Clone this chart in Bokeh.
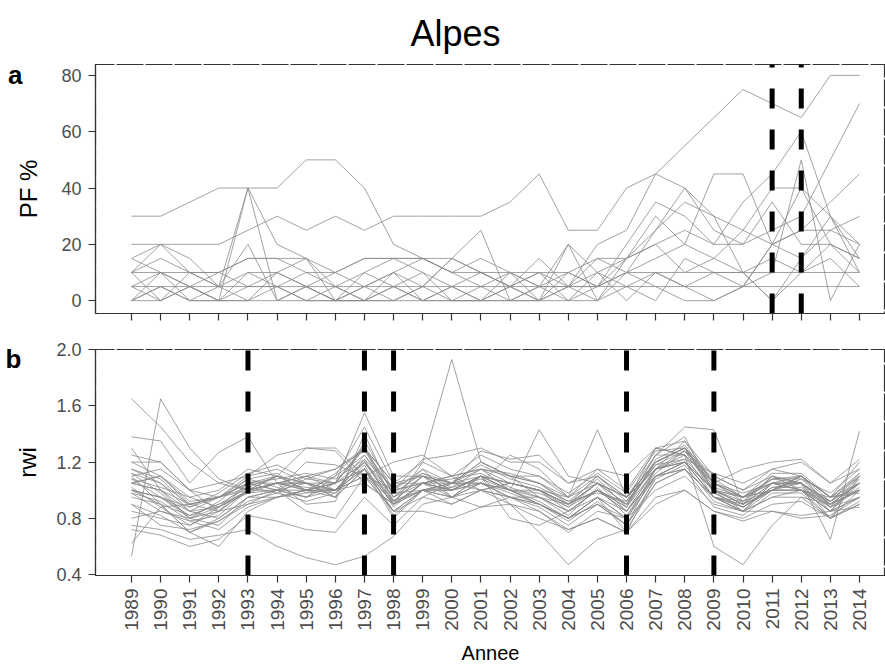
import math
from bokeh.plotting import figure
from bokeh.models import (Range1d, FixedTicker, NumeralTickFormatter, ColumnDataSource,
                          LinearAxis)
from bokeh.layouts import column
from bokeh.embed import file_html
from bokeh.resources import INLINE

years = list(range(1989, 2015))

# Panel a: PF % per site
pf_s01 = [30,30,35,40,40,40,50,50,40,20,15,10,15,10,5,10,5,10,15,20,15,10,15,10,20,15]
pf_s02 = [20,20,20,20,25,30,25,30,25,30,30,30,30,35,45,25,25,40,45,55,65,75,70,65,80,80]
pf_s03 = [5,10,5,0,40,0,5,0,5,0,5,0,0,5,0,5,10,15,20,25,20,20,25,30,50,70]
pf_s04 = [15,20,15,5,40,20,15,0,5,10,0,5,0,5,10,0,5,20,35,30,20,35,45,60,30,15]
pf_s05 = [10,20,10,5,20,0,5,10,15,15,15,10,5,10,0,5,15,15,30,20,45,45,20,15,25,20]
pf_s06 = [10,15,10,10,15,15,15,10,5,10,5,15,10,5,15,5,5,15,25,35,30,25,20,40,30,20]
pf_s07 = [5,5,5,5,5,5,5,5,5,5,5,5,5,5,5,5,5,5,5,5,5,5,5,5,5,5]
pf_s08 = [0,10,0,5,10,5,10,5,0,5,10,0,5,0,5,20,10,0,10,5,10,10,0,15,30,10]
pf_s09 = [10,0,10,5,0,10,5,0,10,5,0,5,10,5,0,10,5,10,5,0,0,5,10,50,0,20]
pf_s10 = [0,5,0,0,5,5,0,5,0,0,5,15,25,0,5,0,10,5,0,15,10,5,20,25,35,45]
pf_s11 = [5,0,5,10,5,10,15,5,10,15,10,5,0,10,5,5,0,10,25,40,30,10,0,10,15,5]
pf_s12 = [0,0,5,0,0,0,0,0,0,0,0,0,0,0,0,0,0,15,20,10,15,25,40,40,20,15]
pf_s13 = [10,10,10,10,15,15,10,10,15,15,15,10,10,10,10,10,15,10,10,10,10,10,10,10,10,10]
pf_s14 = [15,10,5,0,10,10,5,0,0,10,15,15,10,5,10,5,20,25,45,40,25,20,35,20,20,10]
pf_s15 = [0,5,0,0,0,5,0,0,0,5,0,0,0,0,0,20,0,5,10,5,0,5,20,25,25,30]

# Panel b: ring-width index per tree
rwi_01 = [1.65,1.45,1.2,1.05,1.0,1.1,1.0,1.05,1.3,1.05,1.2,1.1,1.25,1.15,1.1,0.95,1.15,1.0,1.3,1.35,1.1,1.0,1.15,1.1,0.95,1.1]
rwi_02 = [0.53,1.65,1.3,1.08,1.0,1.0,0.95,1.1,1.25,1.0,1.05,0.95,1.1,1.0,0.9,0.8,0.95,0.8,1.15,1.2,0.95,0.88,1.0,1.0,0.85,0.95]
rwi_03 = [0.75,0.72,0.65,0.68,0.72,0.6,0.52,0.47,0.53,0.67,0.9,0.95,1.0,0.9,0.8,0.72,0.8,0.7,0.95,1.0,0.85,0.8,0.9,0.92,0.8,0.9]
rwi_04 = [1.0,0.95,0.8,0.85,1.0,1.05,1.1,1.0,1.15,0.9,1.2,1.93,1.2,1.1,0.95,0.9,1.05,0.95,1.2,1.3,1.05,0.95,1.0,1.1,0.95,1.05]
rwi_05 = [1.38,1.35,1.05,1.27,1.38,1.05,1.1,1.15,1.3,0.9,1.0,1.05,1.15,1.05,1.0,0.85,1.0,0.85,1.1,1.2,1.0,0.92,1.1,1.05,0.88,1.0]
rwi_06 = [1.1,0.9,0.7,0.8,0.95,1.0,1.2,1.18,1.1,0.85,0.95,1.05,1.05,0.95,0.9,0.8,0.9,0.75,1.15,1.28,1.0,0.85,1.05,1.0,0.85,1.05]
rwi_07 = [1.05,1.0,0.9,0.95,1.1,1.15,1.05,0.95,1.35,1.0,1.15,0.95,1.1,1.0,1.0,0.9,1.1,0.92,1.3,1.25,0.95,0.9,1.0,1.08,0.9,1.0]
rwi_08 = [0.98,0.85,0.78,0.82,1.0,1.05,1.0,1.05,1.15,0.93,1.0,1.05,1.2,1.1,1.05,0.95,1.05,0.85,1.1,1.15,0.95,0.85,1.05,1.05,0.92,1.05]
rwi_09 = [1.3,1.0,0.8,0.75,0.95,0.95,1.0,1.05,1.2,0.95,1.1,1.0,1.05,1.25,1.15,0.95,1.43,0.95,1.2,1.3,1.1,1.0,1.1,1.0,0.95,0.98]
rwi_10 = [1.12,1.05,0.9,0.85,1.0,1.1,1.05,1.0,1.25,0.95,1.05,1.1,1.15,1.0,0.9,0.8,0.95,0.85,1.15,1.2,1.0,0.95,1.0,1.1,0.88,1.1]
rwi_11 = [0.9,0.75,0.72,0.78,0.9,1.0,0.85,0.8,1.1,0.85,1.0,0.95,0.88,0.9,0.85,0.7,0.85,0.8,1.0,1.1,0.9,0.85,0.95,0.95,0.8,0.9]
rwi_12 = [1.05,1.1,0.95,1.0,1.15,1.1,1.3,1.3,1.1,1.0,1.05,1.0,1.1,1.0,1.43,1.1,1.05,0.95,1.2,1.3,1.05,0.95,1.05,1.0,0.9,1.05]
rwi_13 = [1.2,1.1,0.9,0.95,1.0,1.05,0.9,0.92,1.4,0.95,1.15,1.05,1.0,1.05,1.0,0.9,1.05,0.9,1.25,1.45,1.43,0.9,1.0,1.1,0.95,1.0]
rwi_14 = [0.85,0.8,0.75,0.88,1.05,1.0,0.95,1.05,1.15,0.9,1.0,1.0,1.1,0.8,0.75,0.85,1.0,0.88,1.15,1.2,1.0,0.9,1.05,1.05,0.9,1.05]
rwi_15 = [1.0,0.95,0.88,0.95,1.05,1.05,1.05,1.0,1.2,0.98,1.0,1.0,1.05,1.0,0.95,0.85,1.0,0.85,1.15,1.25,0.6,0.47,0.75,0.95,0.9,1.0]
rwi_16 = [1.15,1.05,0.85,0.8,0.95,1.0,1.05,1.0,1.05,0.9,1.05,1.0,1.1,0.9,0.7,0.47,0.65,0.72,1.05,1.15,0.95,0.88,1.0,1.0,0.85,0.95]
rwi_17 = [1.08,0.95,0.82,0.9,1.02,1.1,1.0,1.0,1.2,0.92,1.1,1.05,1.1,1.05,1.0,0.88,1.05,0.9,1.2,1.3,1.0,0.9,1.05,1.05,0.65,1.42]
rwi_18 = [1.0,0.95,0.85,0.95,1.05,1.0,1.1,1.05,1.3,1.05,1.1,0.95,1.05,1.0,0.92,0.8,0.9,0.8,1.1,1.15,0.95,0.92,1.0,1.05,0.8,1.1]
rwi_19 = [0.72,0.68,0.6,0.65,0.82,0.78,0.72,0.7,0.95,0.75,0.95,0.9,1.0,0.95,0.85,0.72,0.8,0.7,0.9,1.0,0.85,0.78,0.85,0.82,0.85,0.88]
rwi_20 = [1.1,1.15,1.0,1.05,1.1,1.25,1.3,1.28,1.05,0.9,1.05,1.05,1.28,1.22,1.25,1.05,1.15,1.1,1.3,1.25,1.05,1.15,1.2,1.22,1.05,1.15]
rwi_21 = [1.0,0.9,0.7,0.6,0.85,0.95,1.0,0.95,1.15,0.8,1.0,0.9,1.0,0.95,0.9,0.8,0.95,0.7,1.1,1.2,0.95,0.85,0.95,1.0,0.8,1.0]
rwi_22 = [1.05,1.0,0.85,0.88,1.0,1.05,1.02,1.0,1.2,0.9,1.05,1.0,1.1,1.05,1.0,0.9,1.0,0.9,1.18,1.22,1.0,0.95,1.08,1.05,0.92,1.05]
rwi_23 = [0.95,0.9,0.82,0.9,0.98,1.0,1.0,1.1,1.45,1.05,1.05,1.1,1.15,1.1,1.05,0.9,1.0,0.88,1.2,1.3,1.0,0.9,1.1,1.05,0.9,1.0]
rwi_24 = [1.2,1.2,1.0,0.85,0.9,0.95,1.0,1.0,1.1,1.2,1.25,1.1,1.0,1.05,1.0,0.95,1.1,0.95,1.15,1.35,1.05,0.95,1.05,1.0,0.92,1.1]
rwi_25 = [0.8,0.85,0.8,0.88,1.0,1.05,1.05,0.95,1.15,0.85,1.0,1.05,1.05,0.95,0.95,0.85,0.95,0.8,1.1,1.2,0.95,0.85,1.0,1.0,0.88,0.95]
rwi_26 = [1.05,1.1,0.92,0.95,1.05,1.1,1.05,1.05,1.55,1.1,1.1,1.0,1.1,1.05,1.0,0.9,1.05,0.95,1.25,1.25,1.05,0.98,1.05,1.1,0.95,1.2]
rwi_27 = [1.12,0.98,0.8,0.92,1.08,1.12,0.98,1.12,1.3,0.98,1.12,1.05,1.18,1.08,1.02,0.92,1.08,0.88,1.22,1.32,1.05,0.92,1.08,1.1,0.92,1.12]
rwi_28 = [0.9,0.82,0.7,0.78,0.92,0.98,0.92,0.98,1.18,0.82,1.0,0.95,1.05,0.98,0.9,0.78,0.92,0.75,1.05,1.15,0.88,0.82,0.98,0.98,0.8,0.92]
rwi_29 = [1.25,1.2,1.0,0.95,1.02,0.98,1.08,1.15,1.28,1.0,1.22,1.25,1.3,1.2,1.2,1.05,1.1,0.95,1.15,1.22,1.12,1.05,1.15,1.2,1.05,1.22]
rwi_30 = [1.02,0.88,0.75,0.85,1.05,1.08,1.12,1.08,1.22,0.88,1.05,1.08,1.12,1.02,0.95,0.82,1.02,0.82,1.12,1.28,0.98,0.88,1.02,1.05,0.85,1.08]
rwi_31 = [0.62,0.88,0.9,0.95,1.08,1.02,0.95,1.0,1.1,0.92,1.0,1.02,1.15,1.12,1.05,0.92,0.98,0.92,1.18,1.28,1.08,0.95,1.08,1.08,0.98,1.15]
rwi_32 = [1.08,1.02,0.95,0.88,0.98,1.05,1.0,0.98,1.22,1.02,1.12,1.02,1.08,1.0,0.98,0.88,1.0,0.9,1.25,1.38,0.98,0.88,1.02,1.02,0.88,1.02]
rwi_33 = [0.98,0.92,0.78,0.72,0.88,0.95,0.98,1.0,1.15,0.85,0.85,0.8,0.88,0.95,0.88,0.75,0.9,0.75,1.08,1.18,0.92,0.85,0.85,0.8,0.82,0.95]
rwi_34 = [1.15,1.08,0.88,0.98,1.12,1.18,1.08,1.05,1.32,0.92,1.1,1.05,1.2,1.1,1.1,0.98,1.12,0.98,1.28,1.3,1.02,0.95,1.12,1.12,0.95,1.12]

events_a = [2011, 2012]
events_b = [1993, 1997, 1998, 2006, 2009]

pf_ticks = [0, 20, 40, 60, 80]
rwi_ticks = [0.4, 0.8, 1.2, 1.6, 2.0]

title_text = "Alpes"
panel_tags = {"a": 80, "b": 1.936}   # tag text -> y position (data units) of its centre

pf_all = [pf_s01, pf_s02, pf_s03, pf_s04, pf_s05, pf_s06, pf_s07, pf_s08,
          pf_s09, pf_s10, pf_s11, pf_s12, pf_s13, pf_s14, pf_s15]
rwi_all = [rwi_01, rwi_02, rwi_03, rwi_04, rwi_05, rwi_06, rwi_07, rwi_08, rwi_09,
           rwi_10, rwi_11, rwi_12, rwi_13, rwi_14, rwi_15, rwi_16, rwi_17, rwi_18,
           rwi_19, rwi_20, rwi_21, rwi_22, rwi_23, rwi_24, rwi_25, rwi_26, rwi_27,
           rwi_28, rwi_29, rwi_30, rwi_31, rwi_32, rwi_33, rwi_34]

FONT = "Liberation Sans"
LINE_COL = "#8a8a8a"
AX_COL = "#333333"
TICK_LAB = "#4d4d4d"
X0, X1 = 1987.764, 2014.893


def style(p, yticks, y_dash_offset):
    p.xgrid.visible = False
    p.ygrid.visible = False
    p.background_fill_color = "white"
    p.border_fill_color = "white"
    p.outline_line_color = AX_COL
    p.outline_line_width = 1.2
    p.outline_line_dash = "27 2"
    p.outline_line_dash_offset = 8
    p.yaxis.ticker = FixedTicker(ticks=yticks)
    for ax in (p.xaxis[0], p.yaxis[0]):
        ax.axis_line_color = AX_COL
        ax.axis_line_width = 1.2
        ax.major_tick_line_color = AX_COL
        ax.major_tick_line_width = 1.2
        ax.major_tick_in = 0
        ax.major_tick_out = 7
        ax.minor_tick_line_color = None
        ax.major_label_text_font = FONT
        ax.major_label_text_color = TICK_LAB
        ax.major_label_text_font_size = "18px"
        ax.axis_label_text_font = FONT
        ax.axis_label_text_font_style = "normal"
        ax.axis_label_text_color = "black"
    p.xaxis[0].axis_line_dash = "27 2"
    p.xaxis[0].axis_line_dash_offset = 8
    p.yaxis[0].axis_line_dash = "55 2"
    p.yaxis[0].axis_line_dash_offset = y_dash_offset
    p.yaxis[0].major_label_standoff = 7
    p.yaxis[0].axis_label_text_font_size = "24px"


def add_tag(p, tag):
    ax = LinearAxis(ticker=FixedTicker(ticks=[panel_tags[tag]]),
                    major_label_overrides={panel_tags[tag]: tag},
                    axis_line_color=None, major_tick_line_color=None,
                    minor_tick_line_color=None, major_tick_out=0, major_tick_in=0,
                    major_label_standoff=-10, major_label_text_font=FONT,
                    major_label_text_font_size="26px", major_label_text_font_style="bold",
                    major_label_text_color="black")
    p.add_layout(ax, "left")


# ---------- panel a ----------
ya0, ya1 = -4.56, 83.86
p1 = figure(width=885, height=330, x_range=Range1d(X0, X1), y_range=Range1d(ya0, ya1),
            output_backend="svg", toolbar_location=None,
            min_border_left=95, min_border_right=0, min_border_top=61, min_border_bottom=17)
style(p1, pf_ticks, 15)
# bottom ticks of panel a carry no labels: draw them as minor ticks
p1.xaxis.ticker = FixedTicker(ticks=[], minor_ticks=years)
p1.xaxis.minor_tick_line_color = AX_COL
p1.xaxis.minor_tick_line_width = 1.2
p1.xaxis.minor_tick_in = 0
p1.xaxis.minor_tick_out = 7
p1.xaxis.major_label_standoff = 0
p1.yaxis.axis_label = "PF %"
p1.yaxis.axis_label_standoff = 16
p1.title.text = title_text
p1.title.text_font = FONT
p1.title.text_font_size = "36px"
p1.title.text_font_style = "normal"
p1.title.text_color = "black"
p1.title.align = "left"
p1.title.offset = 315
p1.title.standoff = 21
add_tag(p1, "a")

src_a = ColumnDataSource(dict(xs=[years] * len(pf_all), ys=pf_all))
p1.multi_line(xs="xs", ys="ys", source=src_a, line_color=LINE_COL, line_width=0.8)
p1.segment(x0=events_a, y0=[ya0] * len(events_a), x1=events_a, y1=[ya1] * len(events_a),
           line_color="black", line_width=5, line_dash="20 21")

# ---------- panel b ----------
yb0, yb1 = 0.393, 2.001
p2 = figure(width=885, height=336, x_range=p1.x_range, y_range=Range1d(yb0, yb1),
            output_backend="svg", toolbar_location=None,
            min_border_left=95, min_border_right=0, min_border_top=19, min_border_bottom=90)
style(p2, rwi_ticks, 27)
p2.xaxis.ticker = FixedTicker(ticks=years)
p2.yaxis.formatter = NumeralTickFormatter(format="0.0")
p2.yaxis.axis_label = "rwi"
p2.yaxis.axis_label_standoff = 12
p2.xaxis.major_label_orientation = math.pi / 2
p2.xaxis.major_label_text_font_size = "19px"
p2.xaxis.major_label_standoff = 6
p2.xaxis.axis_label = "Annee"
p2.xaxis.axis_label_text_font_size = "20px"
p2.xaxis.axis_label_standoff = 8
add_tag(p2, "b")

src_b = ColumnDataSource(dict(xs=[years] * len(rwi_all), ys=rwi_all))
p2.multi_line(xs="xs", ys="ys", source=src_b, line_color=LINE_COL, line_width=0.8)
p2.segment(x0=events_b, y0=[yb0] * len(events_b), x1=events_b, y1=[yb1] * len(events_b),
           line_color="black", line_width=5, line_dash="20 21")

layout = column(p1, p2, spacing=0)
open("out.html", "w").write(file_html(layout, INLINE))
